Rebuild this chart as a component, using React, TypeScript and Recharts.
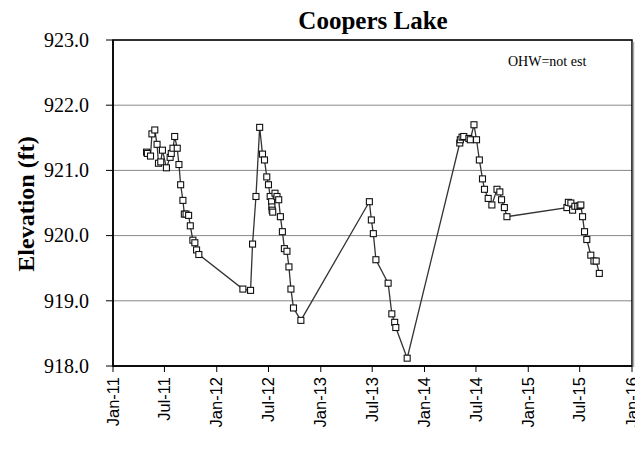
import React from "react";
import { LineChart, Line, XAxis, YAxis, CartesianGrid, ReferenceArea } from "recharts";

const dates2011 = ["2011-04-29","2011-05-02","2011-05-13","2011-05-18","2011-05-28","2011-06-05","2011-06-10","2011-06-18","2011-06-24","2011-07-08","2011-07-21","2011-07-25","2011-07-31","2011-08-06","2011-08-15","2011-08-21","2011-08-27","2011-09-04","2011-09-09","2011-09-15","2011-09-24","2011-09-30","2011-10-09","2011-10-16","2011-10-22","2011-10-30"];
const elev2011 = [921.28,921.26,921.22,921.56,921.62,921.40,921.11,921.13,921.31,921.04,921.20,921.26,921.34,921.52,921.34,921.09,920.78,920.54,920.33,920.33,920.31,920.15,919.93,919.89,919.78,919.71];

const dates2012 = ["2012-04-02","2012-04-29","2012-05-06","2012-05-18","2012-05-31","2012-06-10","2012-06-17","2012-06-25","2012-07-01","2012-07-07","2012-07-12","2012-07-13","2012-07-14","2012-07-16","2012-07-24","2012-07-31","2012-08-06","2012-08-12","2012-08-19","2012-08-26","2012-09-04","2012-09-11","2012-09-18","2012-09-27","2012-10-23"];
const elev2012 = [919.18,919.16,919.87,920.60,921.66,921.25,921.16,920.90,920.78,920.60,920.52,920.44,920.39,920.36,920.65,920.60,920.55,920.29,920.06,919.80,919.76,919.52,919.18,918.89,918.70];

const dates2013 = ["2013-06-21","2013-06-28","2013-07-05","2013-07-14","2013-08-26","2013-09-08","2013-09-18","2013-09-22","2013-11-01"];
const elev2013 = [920.52,920.24,920.03,919.63,919.27,918.80,918.67,918.59,918.12];

const dates2014 = ["2014-05-05","2014-05-07","2014-05-13","2014-05-19","2014-06-06","2014-06-11","2014-06-24","2014-07-03","2014-07-13","2014-07-24","2014-07-31","2014-08-13","2014-08-26","2014-09-13","2014-09-23","2014-09-29","2014-10-09","2014-10-18"];
const elev2014 = [921.42,921.47,921.51,921.52,921.49,921.47,921.70,921.47,921.16,920.87,920.71,920.57,920.47,920.71,920.67,920.55,920.43,920.29];

const dates2015 = ["2015-05-17","2015-05-22","2015-05-31","2015-06-06","2015-06-14","2015-06-24","2015-07-02","2015-07-05","2015-07-11","2015-07-18","2015-07-26","2015-08-09","2015-08-20","2015-08-28","2015-09-08"];
const elev2015 = [920.43,920.51,920.50,920.39,920.45,920.45,920.46,920.47,920.29,920.06,919.94,919.70,919.61,919.61,919.42];

const tickDates = ["2011-01-01","2011-07-01","2012-01-01","2012-07-01","2013-01-01","2013-07-01","2014-01-01","2014-07-01","2015-01-01","2015-07-01","2016-01-01"];
const tickLabels = ["Jan-11","Jul-11","Jan-12","Jul-12","Jan-13","Jul-13","Jan-14","Jul-14","Jan-15","Jul-15","Jan-16"];
const yTicks = [918, 919, 920, 921, 922, 923];

const toTs = (s: string) => {
  const [y, m, d] = s.split("-").map(Number);
  return Date.UTC(y, m - 1, d);
};

const allDates = [...dates2011, ...dates2012, ...dates2013, ...dates2014, ...dates2015];
const allElev = [...elev2011, ...elev2012, ...elev2013, ...elev2014, ...elev2015];
const data = allDates.map((d, i) => ({ t: toTs(d), v: allElev[i] }));
const xTicks = tickDates.map(toTs);
const labelFor: Record<number, string> = {};
xTicks.forEach((t, i) => (labelFor[t] = tickLabels[i]));

const SERIF = "'Liberation Serif', 'Times New Roman', serif";
const SANS = "'Liberation Sans', Arial, sans-serif";

const XTick = (props: any) => {
  const { x, y, payload } = props;
  return (
    <text
      x={x}
      y={y + 3}
      dy="0.34em"
      transform={`rotate(-90, ${x}, ${y + 3})`}
      textAnchor="end"
      fontFamily={SANS}
      fontSize={16.5}
      fill="#000"
    >
      {labelFor[payload.value]}
    </text>
  );
};

const YTick = (props: any) => {
  const { x, y, payload } = props;
  return (
    <text x={x - 15} y={y} dy="0.34em" textAnchor="end" fontFamily={SERIF} fontSize={20} fill="#000">
      {Number(payload.value).toFixed(1)}
    </text>
  );
};

const SquareDot = (props: any) => {
  const { cx, cy, index } = props;
  if (cx == null || cy == null) return null;
  return (
    <rect key={`d${index}`} x={cx - 3} y={cy - 3} width={6} height={6} fill="#fff" stroke="#111" strokeWidth={1.1} />
  );
};

export default function App() {
  const W = 635;
  const H = 434;
  return (
    <div style={{ position: "relative", width: W, height: H }}>
      <LineChart width={W} height={H} data={data} margin={{ top: 32, right: 11, bottom: 0, left: 0 }}>
        <CartesianGrid vertical={false} horizontal stroke="#888" strokeWidth={1} />
        <XAxis
          dataKey="t"
          type="number"
          domain={[xTicks[0], xTicks[xTicks.length - 1]]}
          ticks={xTicks}
          tick={<XTick />}
          tickLine={{ stroke: "#000" }}
          tickSize={6}
          axisLine={{ stroke: "#000", strokeWidth: 1.5 }}
          height={76}
          interval={0}
          allowDataOverflow
        />
        <YAxis
          type="number"
          domain={[918, 923]}
          ticks={yTicks}
          tick={<YTick />}
          tickLine={{ stroke: "#000" }}
          tickSize={7}
          axisLine={{ stroke: "#000", strokeWidth: 1.5 }}
          width={105}
          interval={0}
        />
        <ReferenceArea
          x1={xTicks[0]}
          x2={xTicks[xTicks.length - 1]}
          y1={918}
          y2={923}
          fill="none"
          stroke="#000"
          strokeWidth={1.5}
          ifOverflow="visible"
        />
        <Line
          dataKey="v"
          type="linear"
          stroke="#333"
          strokeWidth={1.3}
          dot={<SquareDot />}
          activeDot={false}
          isAnimationActive={false}
        />
      </LineChart>
      <svg width={W} height={H} style={{ position: "absolute", left: 0, top: 0, pointerEvents: "none" }}>
        <line x1={625.5} y1={34} x2={625.5} y2={359} stroke="#aaa" strokeWidth={1.5} />
        <text x={365} y={21} textAnchor="middle" fontFamily={SERIF} fontWeight="bold" fontSize={25} fill="#000">
          Coopers Lake
        </text>
        <text x={500} y={58} fontFamily={SERIF} fontSize={14} fill="#000">
          OHW=not est
        </text>
        <text
          x={18}
          y={196}
          dy="0.35em"
          transform="rotate(-90, 18, 196)"
          textAnchor="middle"
          fontFamily={SERIF}
          fontWeight="bold"
          fontSize={24}
          fill="#000"
        >
          Elevation (ft)
        </text>
      </svg>
    </div>
  );
}
